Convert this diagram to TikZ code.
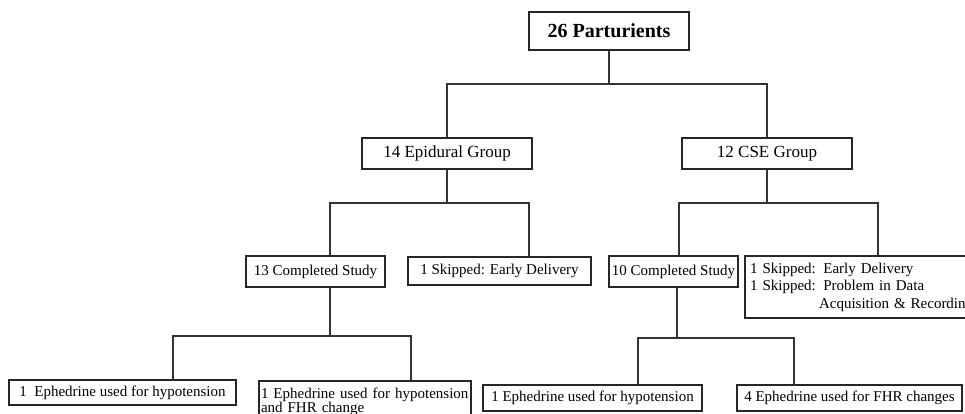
\documentclass[tikz,border=0pt]{standalone}
\usepackage{fontspec}
\setmainfont{Liberation Serif}
\begin{document}
\begin{tikzpicture}[x=1pt,y=-1pt,
  box/.style={draw=black!85,line width=1.3pt,rectangle,inner sep=0pt,align=center,font=\fontsize{15}{17.5}\selectfont},
  thickbox/.style={box,line width=2pt},
  conn/.style={draw=black!80,line width=1.2pt}]
\useasboundingbox (0,0) rectangle (965,413);
\clip (0,0) rectangle (965,413);
% nodes
\node[box,minimum width=160pt,minimum height=38pt,font=\fontsize{20}{24}\selectfont\bfseries] (top) at (609,31) {26 Parturients};
\node[box,minimum width=170pt,minimum height=31pt,font=\fontsize{17}{20}\selectfont] (epi) at (447,153.5) {14 Epidural Group};
\node[box,minimum width=170pt,minimum height=31pt,font=\fontsize{17}{20}\selectfont] (cse) at (767,153.5) {12 CSE Group};
\node[thickbox,line width=1.8pt,minimum width=139pt,minimum height=31pt] (c13) at (315.5,271.5) {13 Completed Study};
\node[thickbox,line width=2.5pt,minimum width=183pt,minimum height=28pt] (sk1) at (499.5,271) {1 Skipped: Early Delivery};
\node[thickbox,line width=1.8pt,minimum width=129pt,minimum height=31pt] (c10) at (673.5,271.5) {10 Completed Study};
\node[thickbox,anchor=north west,minimum width=240pt,minimum height=62pt,text width=232pt,align=left,inner xsep=5pt,inner ysep=4pt] (sk2) at (744,255)
  {1 Skipped: Early Delivery\\1 Skipped: Problem in Data\\\hspace*{69pt}Acquisition \& Recording};
\node[thickbox,minimum width=227pt,minimum height=25pt] (e1) at (122.5,392.5) {1\ \ Ephedrine used for hypotension};
\node[thickbox,anchor=north west,minimum width=212pt,minimum height=42pt,text width=208pt,align=left,inner xsep=2pt,inner ysep=2pt,font=\fontsize{15}{13.5}\selectfont] (e2) at (258,380)
  {\mbox{1 Ephedrine used for hypotension}\\\mbox{and FHR change}};
\node[thickbox,minimum width=219pt,minimum height=26pt] (e3) at (592.5,398) {1 Ephedrine used for hypotension};
\node[thickbox,minimum width=225pt,minimum height=26pt] (e4) at (849.5,398) {4 Ephedrine used for FHR changes};
% junction coordinates
\coordinate (h0) at (609,84);
\coordinate (b1) at (330,203);
\coordinate (b2) at (529,203);
\coordinate (b3) at (679,203);
\coordinate (b4) at (878,203);
\coordinate (d1) at (173,336);
\coordinate (d2) at (411,336);
\coordinate (d3) at (638,338);
\coordinate (d4) at (794,338);
\coordinate (v1) at (330,336);
\coordinate (v2) at (677,338);
% connectors
\draw[conn] (top.south) -- (h0);
\draw[conn] (epi.north) |- (h0) -| (cse.north);
\draw[conn] (epi.south) -- (epi.south |- b1);
\draw[conn] (b1 |- c13.north) -- (b1) -- (b2) -- (b2 |- sk1.north);
\draw[conn] (cse.south) -- (cse.south |- b3);
\draw[conn] (b3 |- c10.north) -- (b3) -- (b4) -- (b4 |- sk2.north);
\draw[conn] (v1 |- c13.south) -- (v1);
\draw[conn] (d1 |- e1.north) -- (d1) -- (d2) -- (d2 |- e2.north);
\draw[conn] (v2 |- c10.south) -- (v2);
\draw[conn] (d3 |- e3.north) -- (d3) -- (d4) -- (d4 |- e4.north);
\end{tikzpicture}
\end{document}
